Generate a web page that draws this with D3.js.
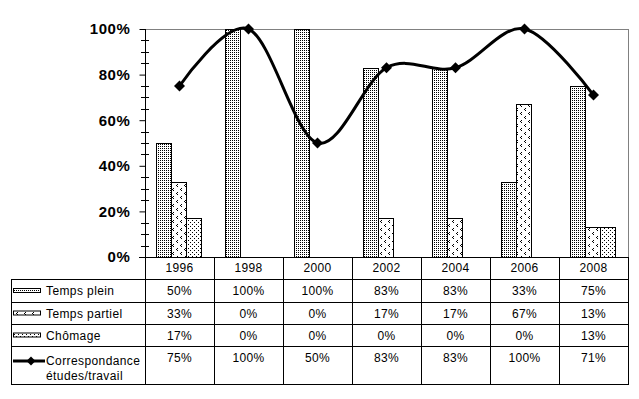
<!DOCTYPE html>
<html>
<head>
<meta charset="utf-8">
<script src="https://cdn.jsdelivr.net/npm/d3@7"></script>
<style>
  html, body { margin: 0; padding: 0; background: #fff; }
  svg { display: block; }
  text { font-family: Arial, "Liberation Sans", sans-serif; fill: #000; }
</style>
</head>
<body>
<svg id="chart" width="639" height="399"></svg>
<script>
const years = ["1996", "1998", "2000", "2002", "2004", "2006", "2008"];
const tempsPlein = [50, 100, 100, 83, 83, 33, 75];
const tempsPartiel = [33, 0, 0, 17, 17, 67, 13];
const chomage = [17, 0, 0, 0, 0, 0, 13];
const correspondance = [75, 100, 50, 83, 83, 100, 71];
const yTicks = [0, 20, 40, 60, 80, 100];
const seriesNames = ["Temps plein", "Temps partiel", "Chômage"];
const lineName = ["Correspondance", "études/travail"];

const svg = d3.select("#chart");
const defs = svg.append("defs");

function pat(id, w, h, pixels) {
  const p = defs.append("pattern").attr("id", id).attr("patternUnits", "userSpaceOnUse")
    .attr("width", w).attr("height", h);
  p.append("rect").attr("width", w).attr("height", h).attr("fill", "#fff");
  pixels.forEach(([x, y]) => p.append("rect").attr("x", x).attr("y", y).attr("width", 1).attr("height", 1).attr("fill", "#000"));
}
pat("pPlein", 2, 2, [[0, 0]]);
pat("pPartiel", 8, 8, [[1, 0], [0, 1], [1, 2], [5, 4], [4, 5], [5, 6]]);
pat("pChom", 4, 4, [[0, 0], [2, 2]]);
const fills = ["url(#pPlein)", "url(#pPartiel)", "url(#pChom)"];

const L = 145, R = 628, T = 29, B = 257;
const x = d3.scaleBand().domain(years).range([L, R]).paddingInner(0).paddingOuter(0);
const y = d3.scaleLinear().domain([0, 100]).range([B, T]);
const xs = d3.scaleBand().domain(d3.range(3)).range([0, 45]);

svg.append("line").attr("x1", L).attr("x2", R + 0.5).attr("y1", T + 0.5).attr("y2", T + 0.5)
  .attr("stroke", "#808080").attr("stroke-width", 1);
svg.append("line").attr("x1", R + 0.5).attr("x2", R + 0.5).attr("y1", T).attr("y2", B)
  .attr("stroke", "#808080").attr("stroke-width", 1);

const seriesData = [tempsPlein, tempsPartiel, chomage];
seriesData.forEach((vals, si) => {
  svg.append("g").selectAll("rect").data(years.map((yr, i) => ({ yr, v: vals[i] })).filter(d => d.v > 0))
    .join("rect")
    .attr("x", d => Math.round(x(d.yr) + x.bandwidth() / 2 - 23.5 + xs(si)) + 0.5)
    .attr("y", d => Math.round(y(d.v)) + 0.5)
    .attr("width", xs.bandwidth())
    .attr("height", d => B - Math.round(y(d.v)))
    .attr("fill", fills[si])
    .attr("stroke", "#000").attr("stroke-width", 1);
});

const yAxis = d3.axisLeft(y).tickValues(yTicks).tickSize(6).tickPadding(9).tickFormat(d => d + "%");
const gy = svg.append("g").attr("transform", `translate(${L + 0.5},0)`).call(yAxis);
gy.select(".domain").remove();
gy.selectAll(".tick line").attr("stroke", "#000");
gy.selectAll(".tick text").attr("font-size", 15).attr("font-weight", "bold")
  .attr("letter-spacing", "0.6px")
  .style("font-family", "Arial, 'Liberation Sans', sans-serif");
svg.append("line").attr("x1", L + 0.5).attr("x2", L + 0.5).attr("y1", T).attr("y2", B)
  .attr("stroke", "#000");
const minor = d3.range(5, 100, 5).filter(v => v % 20 !== 0);
svg.append("g").selectAll("line").data(minor).join("line")
  .attr("x1", L - 4).attr("x2", L + 4)
  .attr("y1", d => Math.round(y(d)) + 0.5).attr("y2", d => Math.round(y(d)) + 0.5)
  .attr("stroke", "#000");

const lineGen = d3.line()
  .x((d, i) => x(years[i]) + x.bandwidth() / 2)
  .y(d => y(d))
  .curve(d3.curveCatmullRom.alpha(0));
svg.append("path").datum(correspondance).attr("d", lineGen)
  .attr("fill", "none").attr("stroke", "#000").attr("stroke-width", 3);
function diamondPath(cx, cy, r) {
  return `M${cx},${cy - r}L${cx + r},${cy}L${cx},${cy + r}L${cx - r},${cy}Z`;
}
svg.append("g").selectAll("path").data(correspondance).join("path")
  .attr("d", (d, i) => diamondPath(x(years[i]) + x.bandwidth() / 2, y(d), 5.5))
  .attr("fill", "#000");

const tL = 11, rows = [257, 279, 302, 324, 346, 384];
const tg = svg.append("g");
const hl = (x1, x2, yy) => tg.append("line").attr("x1", x1).attr("x2", x2).attr("y1", yy + 0.5).attr("y2", yy + 0.5).attr("stroke", "#000");
const vl = (xx, y1, y2) => tg.append("line").attr("x1", xx + 0.5).attr("x2", xx + 0.5).attr("y1", y1).attr("y2", y2).attr("stroke", "#000");
hl(L - 6, R + 1, rows[0]);
rows.slice(1).forEach(r => hl(tL, R + 1, r));
vl(tL, rows[1], rows[5] + 1);
years.forEach(yr => vl(x(yr), rows[0], rows[5] + 1));
vl(R, rows[0], rows[5] + 1);

tg.selectAll("text.hdr").data(years).join("text").attr("class", "hdr")
  .attr("x", d => x(d) + x.bandwidth() / 2).attr("y", 267.5)
  .attr("text-anchor", "middle").attr("dominant-baseline", "central")
  .attr("font-size", 12).attr("letter-spacing", "0.3px").text(d => d);

const rowCenters = [291, 313.5, 335.5, 358];
const allSeries = [tempsPlein, tempsPartiel, chomage, correspondance];
allSeries.forEach((vals, si) => {
  tg.append("g").selectAll("text").data(vals).join("text")
    .attr("x", (d, i) => x(years[i]) + x.bandwidth() / 2).attr("y", rowCenters[si])
    .attr("text-anchor", "middle").attr("dominant-baseline", "central")
    .attr("font-size", 12).attr("letter-spacing", "0.3px").text(d => d + "%");
});

seriesNames.forEach((n, si) => {
  tg.append("rect").attr("x", 13.5).attr("y", rowCenters[si] - 3 + 0.5).attr("width", 27).attr("height", 4)
    .attr("fill", fills[si]).attr("stroke", "#000");
  tg.append("text").attr("x", 46).attr("y", rowCenters[si]).attr("dominant-baseline", "central")
    .attr("font-size", 12).attr("letter-spacing", "0.4px").text(n);
});
tg.append("line").attr("x1", 13).attr("x2", 45).attr("y1", 361).attr("y2", 361)
  .attr("stroke", "#000").attr("stroke-width", 3);
tg.append("path").attr("d", diamondPath(31, 361, 4.5)).attr("fill", "#000");
lineName.forEach((n, k) => {
  tg.append("text").attr("x", 46).attr("y", 361 + k * 14.5).attr("dominant-baseline", "central")
    .attr("font-size", 12).attr("letter-spacing", "0.4px").text(n);
});
</script>
</body>
</html>
